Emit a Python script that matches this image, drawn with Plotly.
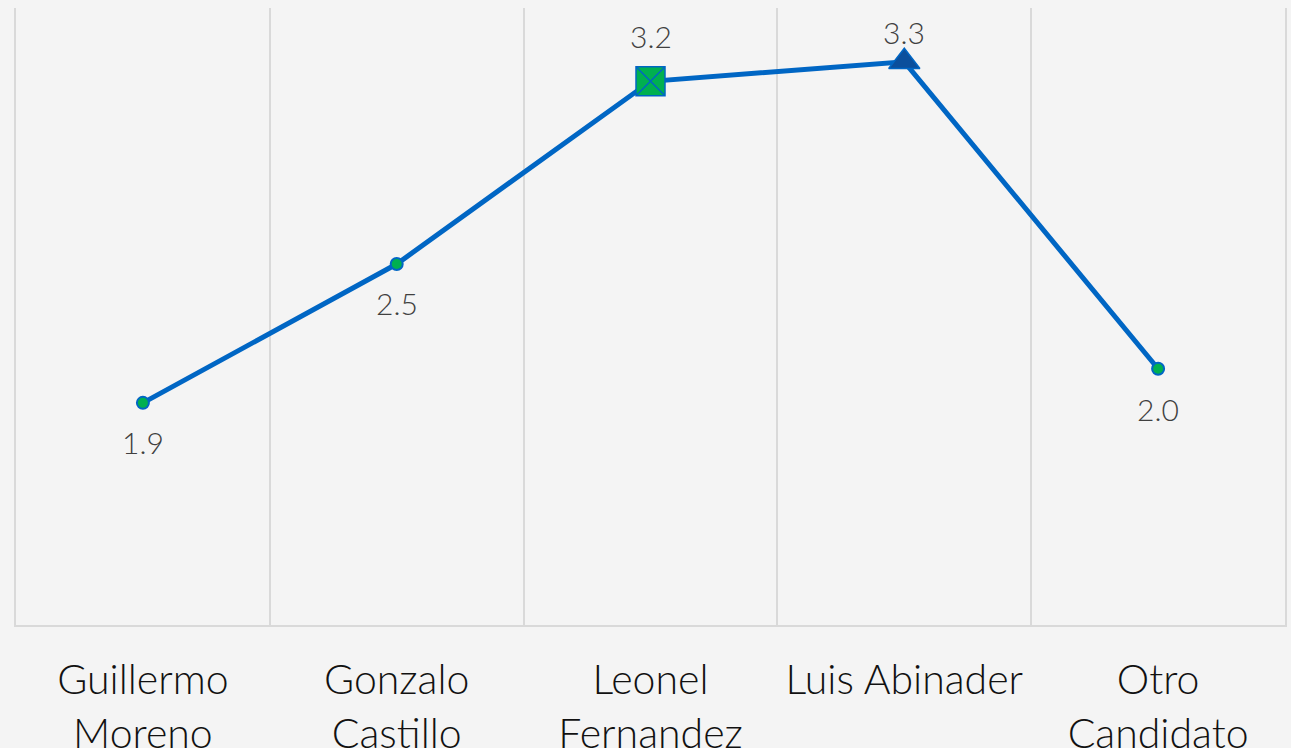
import plotly.graph_objects as go

categories = ["Guillermo<br>Moreno", "Gonzalo<br>Castillo", "Leonel<br>Fernandez", "Luis Abinader", "Otro<br>Candidato"]
values = [1.90, 2.47, 3.22, 3.30, 2.04]
label_text = [f"{v:.1f}" for v in values]

symbols = ["circle", "circle", "square-x", "triangle-up", "circle"]
sizes = [12, 12, 29, 27, 12]
fills = ["#00b050", "#00b050", "#00b050", "#0b4f9c", "#00b050"]
line_widths = [2, 2, 1.5, 1.5, 2]
label_shift = [-39, -39, 45, 30, -40]

LINE = "#0066c4"
FONT = "Lato"

fig = go.Figure()
fig.add_trace(go.Scatter(
    x=categories, y=values, mode="lines+markers",
    line=dict(color=LINE, width=5),
    marker=dict(symbol=symbols, size=sizes, color=fills, opacity=1,
                line=dict(color=LINE, width=line_widths)),
    hoverinfo="skip", showlegend=False,
))

for c, v, t, s in zip(categories, values, label_text, label_shift):
    fig.add_annotation(x=c, y=v, text=t, showarrow=False, yanchor="middle",
                       yshift=s, font=dict(family=FONT, size=30, color="#404040", weight=300))

fig.update_layout(
    width=1291, height=748,
    margin=dict(l=16, r=6, t=8, b=123, autoexpand=False),
    paper_bgcolor="#f4f4f4", plot_bgcolor="#f4f4f4",
    font=dict(family=FONT, weight=300),
)
fig.update_xaxes(
    type="category", tickson="boundaries", showgrid=True, gridcolor="#d9d9d9", gridwidth=2,
    showline=True, linecolor="#d9d9d9", linewidth=2, mirror=False,
    ticks="", ticklabelstandoff=18, automargin=False,
    tickfont=dict(family=FONT, size=41, color="#111111", weight=300),
    range=[-0.5, 4.5], zeroline=False,
)
fig.update_yaxes(range=[0.988, 3.521], showgrid=False, showticklabels=False, zeroline=False, ticks="",
                 showline=True, mirror=True, linecolor="#d9d9d9", linewidth=2, automargin=False)

fig.write_html("out.html", config={"displayModeBar": False},
               post_script="document.body.style.margin='0';document.body.style.background='#f4f4f4';")
